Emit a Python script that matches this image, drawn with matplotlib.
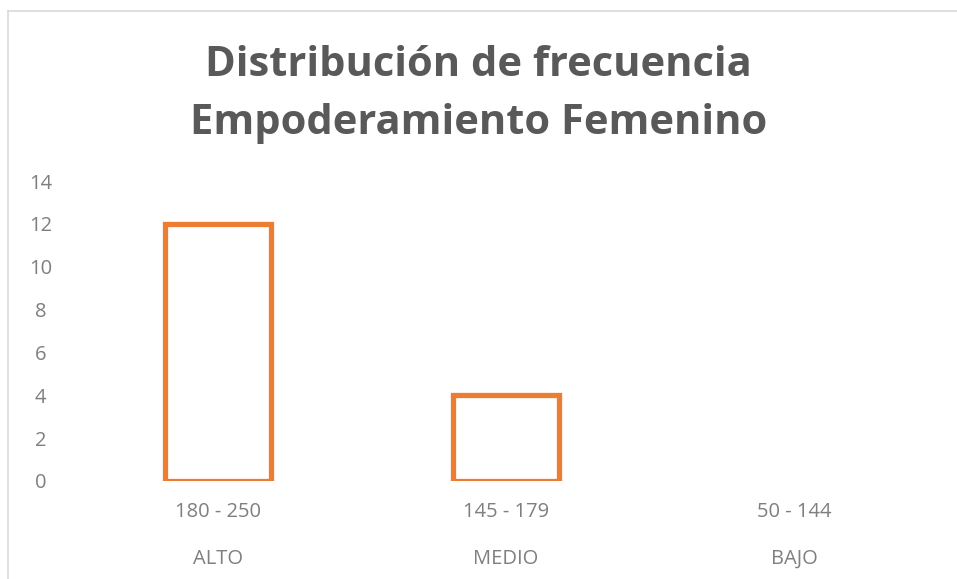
import matplotlib.pyplot as plt
from matplotlib.lines import Line2D

rangos = ['180 - 250', '145 - 179', '50 - 144']
niveles = ['ALTO', 'MEDIO', 'BAJO']
frecuencia = [12, 4, 0]

plt.rcParams['font.family'] = ['Open Sans', 'DejaVu Sans']

fig = plt.figure(figsize=(9.57, 5.79), dpi=100)
ax = fig.add_axes([74 / 957, 1 - 481 / 579, 864 / 957, 300 / 579])

x = range(len(rangos))
barras = ax.bar(x, frecuencia, width=0.365, facecolor='none', edgecolor='#ED7D31', linewidth=3.8)
# una barra de altura cero no se dibuja
for b, v in zip(barras, frecuencia):
    if v == 0:
        b.set_visible(False)

ax.set_xlim(-0.5, 2.5)
ax.set_ylim(0, 14)
ax.set_yticks(range(0, 15, 2))
ax.set_xticks(list(x))
ax.set_xticklabels(rangos)
ax.tick_params(axis='both', length=0, labelsize=14.5, labelcolor='#7F7F7F')
ax.tick_params(axis='x', pad=15)
ax.tick_params(axis='y', pad=24)
for lbl in ax.get_yticklabels():
    lbl.set_horizontalalignment('center')
for s in ax.spines.values():
    s.set_visible(False)

for i, nivel in enumerate(niveles):
    ax.text(i, -78 / 300 * 14, nivel, ha='center', va='center', fontsize=14.5, color='#7F7F7F')

fig.text(0.5, 1 - 65 / 579, 'Distribución de frecuencia', ha='center', va='center',
         fontsize=30, fontweight='bold', color='#595959')
fig.text(0.5, 1 - 124 / 579, 'Empoderamiento Femenino', ha='center', va='center',
         fontsize=30, fontweight='bold', color='#595959')

# marco del grafico
fig.add_artist(Line2D([8 / 957, 8 / 957], [0, 1 - 11 / 579], color='#D9D9D9', linewidth=1.2))
fig.add_artist(Line2D([8 / 957, 1], [1 - 11 / 579, 1 - 11 / 579], color='#D9D9D9', linewidth=1.2))

plt.savefig('out.png', dpi=100)
